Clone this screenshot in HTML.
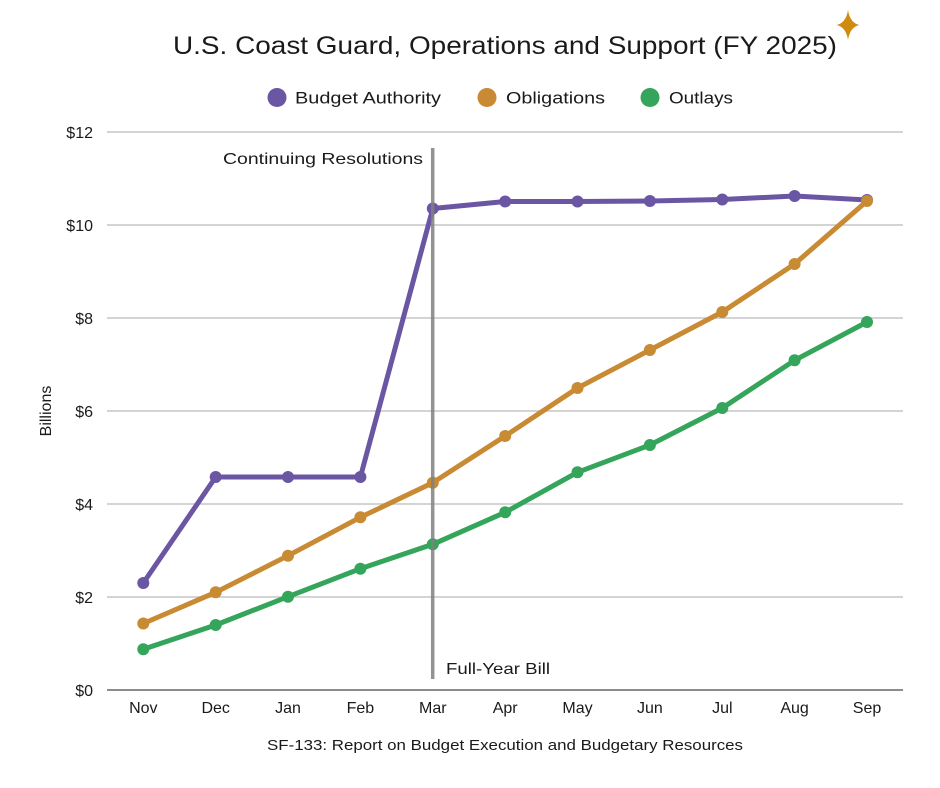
<!DOCTYPE html>
<html>
<head>
<meta charset="utf-8">
<style>
  html, body { margin:0; padding:0; background:#fff; }
  svg { display:block; }
  text { font-family: "Liberation Sans", "DejaVu Sans", sans-serif; fill:#1a1a1a; }
</style>
</head>
<body>
<svg width="940" height="788" viewBox="0 0 940 788" xmlns="http://www.w3.org/2000/svg">
  <rect width="940" height="788" fill="#fff"/>

  <!-- Title -->
  <text x="505" y="54" font-size="25" text-anchor="middle" textLength="664" lengthAdjust="spacingAndGlyphs">U.S. Coast Guard, Operations and Support (FY 2025)</text>
  <!-- Star -->
  <path d="M848,10 Q850,23 859.5,25 Q850,27 848,40 Q846,27 836.5,25 Q846,23 848,10Z" fill="#CF8B10"/>

  <!-- Legend -->
  <circle cx="277" cy="97.5" r="9.5" fill="#6B56A3"/>
  <text x="295" y="103.5" font-size="17" textLength="146" lengthAdjust="spacingAndGlyphs">Budget Authority</text>
  <circle cx="487" cy="97.5" r="9.5" fill="#C98A34"/>
  <text x="506" y="103.5" font-size="17" textLength="99" lengthAdjust="spacingAndGlyphs">Obligations</text>
  <circle cx="650" cy="97.5" r="9.5" fill="#34A55A"/>
  <text x="669" y="103.5" font-size="17" textLength="64" lengthAdjust="spacingAndGlyphs">Outlays</text>

  <!-- Gridlines -->
  <g stroke="#c6c6c6" stroke-width="1.5">
    <line x1="107" y1="132" x2="903" y2="132"/>
    <line x1="107" y1="225" x2="903" y2="225"/>
    <line x1="107" y1="318" x2="903" y2="318"/>
    <line x1="107" y1="411" x2="903" y2="411"/>
    <line x1="107" y1="504" x2="903" y2="504"/>
    <line x1="107" y1="597" x2="903" y2="597"/>
  </g>
  <line x1="107" y1="690" x2="903" y2="690" stroke="#666" stroke-width="1.6"/>

  <!-- Y labels -->
  <g font-size="16" text-anchor="end">
    <text x="93" y="138">$12</text>
    <text x="93" y="231">$10</text>
    <text x="93" y="324">$8</text>
    <text x="93" y="417">$6</text>
    <text x="93" y="510">$4</text>
    <text x="93" y="603">$2</text>
    <text x="93" y="696">$0</text>
  </g>
  <text transform="translate(51,411) rotate(-90)" font-size="16" text-anchor="middle">Billions</text>

  <!-- X labels -->
  <g font-size="16" text-anchor="middle">
    <text x="143.3" y="713">Nov</text>
    <text x="215.7" y="713">Dec</text>
    <text x="288" y="713">Jan</text>
    <text x="360.4" y="713">Feb</text>
    <text x="432.8" y="713">Mar</text>
    <text x="505.2" y="713">Apr</text>
    <text x="577.5" y="713">May</text>
    <text x="649.9" y="713">Jun</text>
    <text x="722.3" y="713">Jul</text>
    <text x="794.6" y="713">Aug</text>
    <text x="867" y="713">Sep</text>
  </g>

  <!-- Source -->
  <text x="505" y="750" font-size="15" text-anchor="middle" textLength="476" lengthAdjust="spacingAndGlyphs">SF-133: Report on Budget Execution and Budgetary Resources</text>

  <!-- Series: Budget Authority -->
  <g fill="#6B56A3">
    <polyline fill="none" stroke="#6B56A3" stroke-width="5" stroke-linejoin="round" points="143.3,583 215.7,477 288,477 360.4,477 432.8,208.5 505.2,201.5 577.5,201.5 649.9,201 722.3,199.5 794.6,196 867,200"/>
    <circle cx="143.3" cy="583" r="6"/>
    <circle cx="215.7" cy="477" r="6"/>
    <circle cx="288" cy="477" r="6"/>
    <circle cx="360.4" cy="477" r="6"/>
    <circle cx="432.8" cy="208.5" r="6"/>
    <circle cx="505.2" cy="201.5" r="6"/>
    <circle cx="577.5" cy="201.5" r="6"/>
    <circle cx="649.9" cy="201" r="6"/>
    <circle cx="722.3" cy="199.5" r="6"/>
    <circle cx="794.6" cy="196" r="6"/>
    <circle cx="867" cy="200" r="6"/>
  </g>

  <!-- Series: Obligations -->
  <g fill="#C98A34">
    <polyline fill="none" stroke="#C98A34" stroke-width="5" stroke-linejoin="round" points="143.3,623.5 215.7,592.3 288,555.7 360.4,517.3 432.8,482.7 505.2,436 577.5,388 649.9,350 722.3,312 794.6,264 867,201"/>
    <circle cx="143.3" cy="623.5" r="6"/>
    <circle cx="215.7" cy="592.3" r="6"/>
    <circle cx="288" cy="555.7" r="6"/>
    <circle cx="360.4" cy="517.3" r="6"/>
    <circle cx="432.8" cy="482.7" r="6"/>
    <circle cx="505.2" cy="436" r="6"/>
    <circle cx="577.5" cy="388" r="6"/>
    <circle cx="649.9" cy="350" r="6"/>
    <circle cx="722.3" cy="312" r="6"/>
    <circle cx="794.6" cy="264" r="6"/>
    <circle cx="867" cy="201" r="6"/>
  </g>

  <!-- Series: Outlays -->
  <g fill="#34A55A">
    <polyline fill="none" stroke="#34A55A" stroke-width="5" stroke-linejoin="round" points="143.3,649.3 215.7,625 288,596.7 360.4,568.7 432.8,544.3 505.2,512.3 577.5,472.3 649.9,445 722.3,408 794.6,360.3 867,322"/>
    <circle cx="143.3" cy="649.3" r="6"/>
    <circle cx="215.7" cy="625" r="6"/>
    <circle cx="288" cy="596.7" r="6"/>
    <circle cx="360.4" cy="568.7" r="6"/>
    <circle cx="432.8" cy="544.3" r="6"/>
    <circle cx="505.2" cy="512.3" r="6"/>
    <circle cx="577.5" cy="472.3" r="6"/>
    <circle cx="649.9" cy="445" r="6"/>
    <circle cx="722.3" cy="408" r="6"/>
    <circle cx="794.6" cy="360.3" r="6"/>
    <circle cx="867" cy="322" r="6"/>
  </g>

  <!-- Vertical annotation line -->
  <line x1="432.7" y1="148" x2="432.7" y2="679" stroke="#808080" stroke-opacity="0.85" stroke-width="3.5"/>
  <text x="423" y="164" font-size="16" text-anchor="end" textLength="200" lengthAdjust="spacingAndGlyphs">Continuing Resolutions</text>
  <text x="446" y="674" font-size="16" textLength="104" lengthAdjust="spacingAndGlyphs">Full-Year Bill</text>
</svg>
</body>
</html>
